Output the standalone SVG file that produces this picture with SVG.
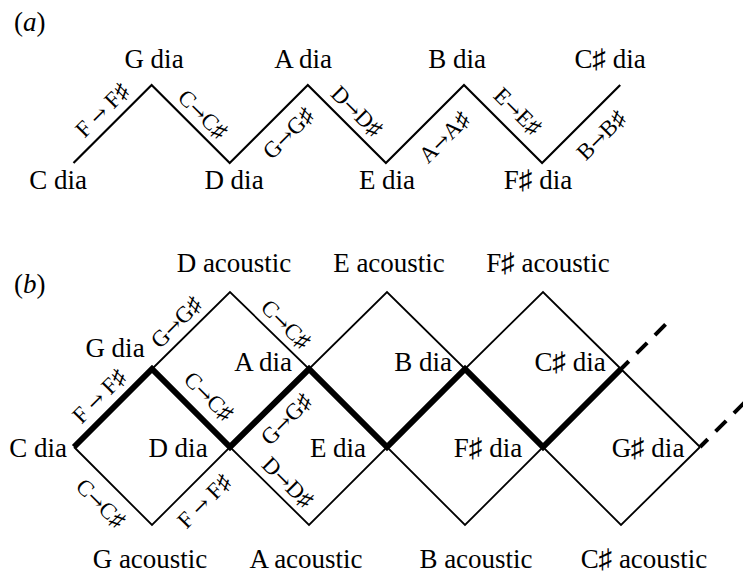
<svg xmlns="http://www.w3.org/2000/svg" width="743" height="575" viewBox="0 0 743 575">
<style>
text{font-family:"Liberation Serif","DejaVu Serif",serif;fill:#000}
.n{font-size:27px;text-anchor:middle}
.e{font-size:23px;text-anchor:middle}
.ar{font-family:"DejaVu Serif",serif;font-size:20px}
.p{font-size:27px}
.i{font-style:italic}
.thin{fill:none;stroke:#000;stroke-width:1.8;stroke-linejoin:miter}
.za{fill:none;stroke:#000;stroke-width:2.2}
.thick{fill:none;stroke:#000;stroke-width:6;stroke-linejoin:miter}
.dash{fill:none;stroke:#000;stroke-width:4;stroke-dasharray:15 11;stroke-dashoffset:4}
</style>
<rect width="743" height="575" fill="#fff"/>
<text class="p" x="14" y="31">(<tspan class="i">a</tspan>)</text>
<text class="p" x="14" y="293">(<tspan class="i">b</tspan>)</text>
<g id="connectors">
<polyline class="za" points="73.5,163 151.6,85 229.7,163 307.8,85 385.9,163 464,85 542.1,163 620.2,85"/>
<polyline class="thin" points="74,447 152,525 230,447 309,525 387,447 465,525 543,447 621,525 700,447"/>
<polyline class="thin" points="152,369 230,292 309,369 387,292 465,369 543,292 621,369 700,447"/>
<polyline class="thick" points="74,447 152,369 230,447 309,369 387,447 465,369 543,447 621,369"/>
<line class="dash" x1="621" y1="369" x2="671" y2="319"/>
<line class="dash" x1="700" y1="447" x2="750" y2="397"/>
</g>
<g id="edge-labels">
<text class="e" transform="translate(102,110) rotate(-45)" dy="0.35em">F <tspan class="ar">→</tspan> F♯</text>
<text class="e" transform="translate(203,114) rotate(45)" dy="0.35em">C<tspan class="ar">→</tspan>C♯</text>
<text class="e" transform="translate(288,133) rotate(-45)" dy="0.35em">G<tspan class="ar">→</tspan>G♯</text>
<text class="e" transform="translate(357,111) rotate(45)" dy="0.35em">D<tspan class="ar">→</tspan>D♯</text>
<text class="e" transform="translate(444,137) rotate(-45)" dy="0.35em">A<tspan class="ar">→</tspan>A♯</text>
<text class="e" transform="translate(518,111) rotate(45)" dy="0.35em">E<tspan class="ar">→</tspan>E♯</text>
<text class="e" transform="translate(601,135) rotate(-45)" dy="0.35em">B<tspan class="ar">→</tspan>B♯</text>
<text class="e" transform="translate(99,396) rotate(-45)" dy="0.35em">F <tspan class="ar">→</tspan> F♯</text>
<text class="e" transform="translate(176,322) rotate(-45)" dy="0.35em">G<tspan class="ar">→</tspan>G♯</text>
<text class="e" transform="translate(286,324) rotate(45)" dy="0.35em">C<tspan class="ar">→</tspan>C♯</text>
<text class="e" transform="translate(209,396) rotate(45)" dy="0.35em">C<tspan class="ar">→</tspan>C♯</text>
<text class="e" transform="translate(286,419) rotate(-45)" dy="0.35em">G<tspan class="ar">→</tspan>G♯</text>
<text class="e" transform="translate(288,482) rotate(45)" dy="0.35em">D<tspan class="ar">→</tspan>D♯</text>
<text class="e" transform="translate(101,503) rotate(45)" dy="0.35em">C<tspan class="ar">→</tspan>C♯</text>
<text class="e" transform="translate(204,501) rotate(-45)" dy="0.35em">F <tspan class="ar">→</tspan> F♯</text>
</g>
<g id="a-C"><text class="n" x="58" y="189">C dia</text></g>
<g id="a-G"><text class="n" x="154" y="68">G dia</text></g>
<g id="a-D"><text class="n" x="234" y="189">D dia</text></g>
<g id="a-A"><text class="n" x="303" y="68">A dia</text></g>
<g id="a-E"><text class="n" x="387" y="189">E dia</text></g>
<g id="a-B"><text class="n" x="457" y="68">B dia</text></g>
<g id="a-Fs"><text class="n" x="538" y="189">F♯ dia</text></g>
<g id="a-Cs"><text class="n" x="610" y="68">C♯ dia</text></g>
<g id="b-Dac"><text class="n" x="234" y="272">D acoustic</text></g>
<g id="b-Eac"><text class="n" x="389" y="272">E acoustic</text></g>
<g id="b-Fsac"><text class="n" x="548" y="272">F♯ acoustic</text></g>
<g id="b-G"><text class="n" x="115" y="357">G dia</text></g>
<g id="b-A"><text class="n" x="263" y="371">A dia</text></g>
<g id="b-B"><text class="n" x="423" y="371">B dia</text></g>
<g id="b-Cs"><text class="n" x="570" y="371">C♯ dia</text></g>
<g id="b-C"><text class="n" x="38" y="457">C dia</text></g>
<g id="b-D"><text class="n" x="178" y="457">D dia</text></g>
<g id="b-E"><text class="n" x="338" y="457">E dia</text></g>
<g id="b-Fs"><text class="n" x="488" y="457">F♯ dia</text></g>
<g id="b-Gs"><text class="n" x="648" y="457">G♯ dia</text></g>
<g id="b-Gac"><text class="n" x="150" y="568">G acoustic</text></g>
<g id="b-Aac"><text class="n" x="306" y="568">A acoustic</text></g>
<g id="b-Bac"><text class="n" x="476" y="568">B acoustic</text></g>
<g id="b-Csac"><text class="n" x="644" y="568">C♯ acoustic</text></g>
</svg>
